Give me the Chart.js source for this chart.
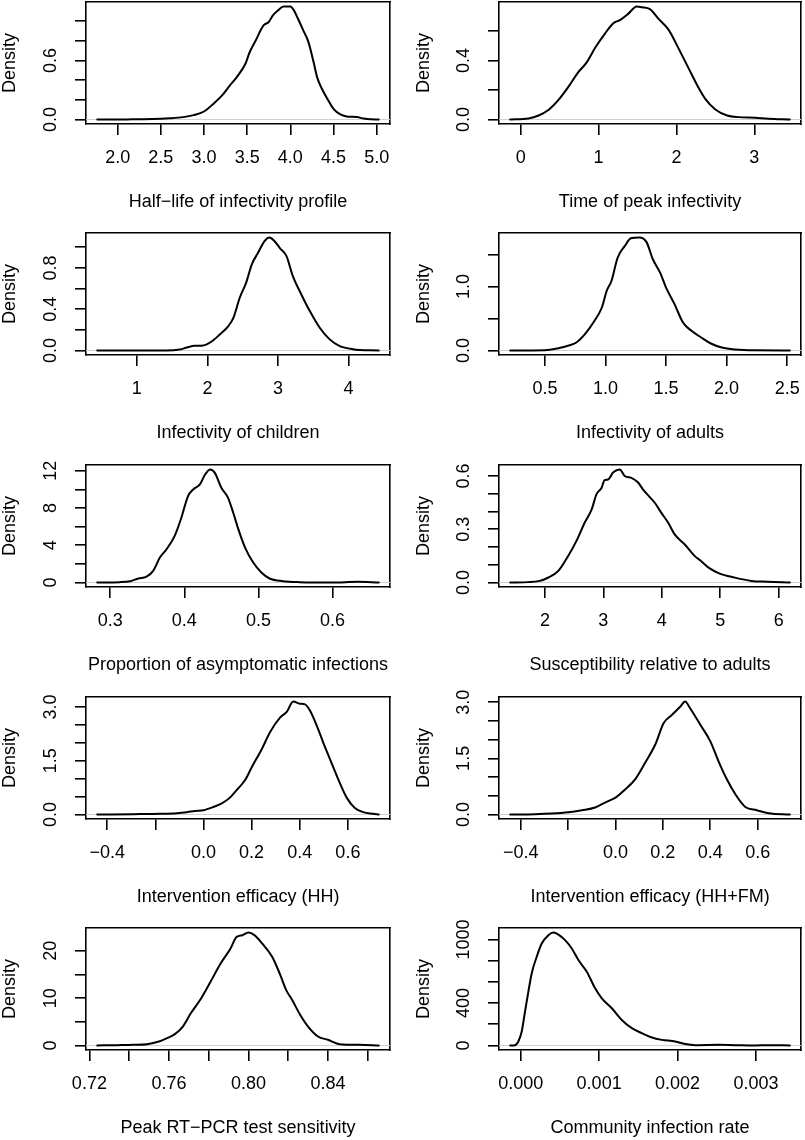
<!DOCTYPE html>
<html><head><meta charset="utf-8">
<script src="https://cdn.jsdelivr.net/npm/chart.js@4.4.1/dist/chart.umd.min.js"></script>
<style>
html,body{margin:0;padding:0;background:#fff;}
#wrap{position:relative;width:805px;height:1140px;overflow:hidden;background:#fff;}
#wrap canvas{position:absolute;}
</style></head><body><div id="wrap"></div>
<script>
// ---------- data ----------
const halfLifeX = [1.764, 2.10, 2.40, 2.60, 2.76, 2.88, 3.00, 3.11, 3.21, 3.30, 3.38, 3.48, 3.53, 3.59, 3.69, 3.75, 3.80, 3.86, 3.92, 4.00, 4.04, 4.09, 4.15, 4.21, 4.27, 4.31, 4.36, 4.44, 4.50, 4.58, 4.65, 4.77, 4.85, 4.93, 5.024];
const halfLifeY = [0, 0.001, 0.004, 0.012, 0.024, 0.044, 0.081, 0.16, 0.244, 0.346, 0.43, 0.566, 0.685, 0.786, 0.955, 0.99, 1.06, 1.11, 1.147, 1.147, 1.11, 1.02, 0.905, 0.786, 0.58, 0.43, 0.322, 0.193, 0.108, 0.051, 0.031, 0.024, 0.01, 0.002, 0];
const halfLifeXTicks = [2.0, 2.5, 3.0, 3.5, 4.0, 4.5, 5.0];
const halfLifeXLabels = ['2.0', '2.5', '3.0', '3.5', '4.0', '4.5', '5.0'];
const halfLifeYTicks = [0, 0.2, 0.4, 0.6, 0.8, 1.0];
const halfLifeYLabels = ['0.0', '', '', '0.6', '', ''];

const peakTimeX = [-0.135, 0.10, 0.23, 0.36, 0.48, 0.61, 0.74, 0.85, 0.96, 1.08, 1.19, 1.28, 1.38, 1.49, 1.56, 1.66, 1.77, 1.90, 2.03, 2.16, 2.28, 2.37, 2.50, 2.65, 2.80, 3.01, 3.18, 3.456];
const peakTimeY = [0, 0.007, 0.027, 0.066, 0.129, 0.219, 0.321, 0.389, 0.49, 0.581, 0.653, 0.676, 0.716, 0.766, 0.761, 0.748, 0.682, 0.608, 0.479, 0.343, 0.219, 0.14, 0.068, 0.027, 0.016, 0.011, 0.005, 0];
const peakTimeXTicks = [0, 1, 2, 3];
const peakTimeXLabels = ['0', '1', '2', '3'];
const peakTimeYTicks = [0, 0.2, 0.4, 0.6];
const peakTimeYLabels = ['0.0', '', '0.4', ''];

const infChildX = [0.439, 1.42, 1.61, 1.71, 1.82, 1.94, 2.06, 2.18, 2.30, 2.37, 2.46, 2.55, 2.63, 2.72, 2.81, 2.88, 2.95, 3.03, 3.12, 3.21, 3.33, 3.45, 3.59, 3.73, 3.87, 4.06, 4.429];
const infChildY = [0, 0, 0.01, 0.029, 0.045, 0.048, 0.087, 0.158, 0.239, 0.319, 0.513, 0.658, 0.835, 0.948, 1.06, 1.094, 1.06, 0.99, 0.916, 0.723, 0.545, 0.384, 0.223, 0.11, 0.045, 0.013, 0];
const infChildXTicks = [1, 2, 3, 4];
const infChildXLabels = ['1', '2', '3', '4'];
const infChildYTicks = [0, 0.2, 0.4, 0.6, 0.8, 1.0];
const infChildYLabels = ['0.0', '', '0.4', '', '0.8', ''];

const infAdultX = [0.213, 0.50, 0.61, 0.69, 0.76, 0.83, 0.90, 0.97, 1.01, 1.05, 1.10, 1.16, 1.21, 1.28, 1.34, 1.39, 1.45, 1.50, 1.57, 1.64, 1.71, 1.79, 1.87, 1.96, 2.07, 2.23, 2.522];
const infAdultY = [0, 0.005, 0.036, 0.073, 0.125, 0.255, 0.4375, 0.672, 0.932, 1.09, 1.45, 1.635, 1.755, 1.766, 1.69, 1.43, 1.22, 0.984, 0.724, 0.4375, 0.307, 0.203, 0.109, 0.047, 0.016, 0.002, 0];
const infAdultXTicks = [0.5, 1.0, 1.5, 2.0, 2.5];
const infAdultXLabels = ['0.5', '1.0', '1.5', '2.0', '2.5'];
const infAdultYTicks = [0, 0.5, 1.0, 1.5];
const infAdultYLabels = ['0.0', '', '1.0', ''];

const propAsymX = [0.2825, 0.313, 0.327, 0.338, 0.349, 0.358, 0.367, 0.376, 0.387, 0.396, 0.405, 0.412, 0.421, 0.428, 0.435, 0.441, 0.450, 0.459, 0.466, 0.473, 0.482, 0.493, 0.504, 0.515, 0.533, 0.556, 0.60, 0.634, 0.6624];
const propAsymY = [0, 0.036, 0.14, 0.43, 0.64, 1.25, 2.68, 3.57, 5.0, 6.96, 9.29, 10.0, 10.54, 11.6, 12.14, 11.8, 10.18, 9.1, 7.5, 5.71, 3.75, 2.14, 1.07, 0.43, 0.14, 0.036, 0.0, 0.07, 0];
const propAsymXTicks = [0.3, 0.4, 0.5, 0.6];
const propAsymXLabels = ['0.3', '0.4', '0.5', '0.6'];
const propAsymYTicks = [0, 2, 4, 6, 8, 10, 12];
const propAsymYLabels = ['0', '', '4', '', '8', '', '12'];

const suscX = [1.406, 1.72, 1.91, 2.06, 2.23, 2.40, 2.54, 2.68, 2.80, 2.88, 2.97, 3.02, 3.08, 3.17, 3.28, 3.37, 3.48, 3.59, 3.68, 3.79, 3.88, 3.99, 4.11, 4.22, 4.39, 4.56, 4.67, 4.82, 4.99, 5.24, 5.53, 5.81, 6.19];
const suscY = [0, 0.002, 0.009, 0.028, 0.065, 0.15, 0.234, 0.336, 0.411, 0.495, 0.533, 0.576, 0.58, 0.62, 0.636, 0.598, 0.589, 0.564, 0.523, 0.482, 0.449, 0.393, 0.336, 0.271, 0.215, 0.15, 0.121, 0.079, 0.05, 0.028, 0.009, 0.004, 0];
const suscXTicks = [2, 3, 4, 5, 6];
const suscXLabels = ['2', '3', '4', '5', '6'];
const suscYTicks = [0, 0.1, 0.2, 0.3, 0.4, 0.5, 0.6];
const suscYLabels = ['0.0', '', '', '0.3', '', '', '0.6'];

const effHHX = [-0.4412, -0.29, -0.18, -0.11, -0.069, -0.035, 0.0, 0.041, 0.076, 0.11, 0.138, 0.173, 0.20, 0.242, 0.277, 0.318, 0.346, 0.373, 0.40, 0.422, 0.443, 0.471, 0.498, 0.526, 0.56, 0.595, 0.629, 0.664, 0.705, 0.7282];
const effHHY = [0, 0.009, 0.019, 0.037, 0.065, 0.10, 0.12, 0.21, 0.31, 0.47, 0.68, 0.96, 1.31, 1.82, 2.30, 2.70, 2.86, 3.15, 3.09, 3.07, 2.89, 2.47, 2.0, 1.54, 0.98, 0.47, 0.18, 0.065, 0.02, 0];
const effHHXTicks = [-0.4, -0.2, 0.0, 0.2, 0.4, 0.6];
const effHHXLabels = ['\u22120.4', '', '0.0', '0.2', '0.4', '0.6'];
const effHHYTicks = [0, 0.5, 1.0, 1.5, 2.0, 2.5, 3.0];
const effHHYLabels = ['0.0', '', '', '1.5', '', '', '3.0'];

const effFMX = [-0.4443, -0.34, -0.269, -0.199, -0.142, -0.086, -0.044, 0.0, 0.041, 0.083, 0.125, 0.168, 0.203, 0.238, 0.273, 0.294, 0.315, 0.358, 0.40, 0.435, 0.47, 0.506, 0.548, 0.597, 0.646, 0.7358];
const effFMY = [0, 0.009, 0.027, 0.062, 0.115, 0.186, 0.319, 0.45, 0.67, 0.94, 1.38, 1.87, 2.44, 2.66, 2.88, 3.02, 2.84, 2.40, 1.96, 1.42, 0.94, 0.54, 0.20, 0.115, 0.035, 0];
const effFMXTicks = [-0.4, -0.2, 0.0, 0.2, 0.4, 0.6];
const effFMXLabels = ['\u22120.4', '', '0.0', '0.2', '0.4', '0.6'];
const effFMYTicks = [0, 0.5, 1.0, 1.5, 2.0, 2.5, 3.0];
const effFMYLabels = ['0.0', '', '', '1.5', '', '', '3.0'];

const sensX = [0.72396, 0.734, 0.742, 0.749, 0.755, 0.759, 0.763, 0.767, 0.771, 0.776, 0.781, 0.786, 0.791, 0.794, 0.797, 0.800, 0.803, 0.807, 0.812, 0.816, 0.819, 0.822, 0.826, 0.830, 0.835, 0.840, 0.846, 0.856, 0.86554];
const sensY = [0, 0.07, 0.14, 0.28, 0.84, 1.54, 2.39, 4.0, 6.8, 9.8, 13.5, 17.3, 20.5, 22.9, 23.3, 23.86, 23.3, 21.5, 18.7, 14.9, 11.7, 9.6, 6.5, 4.0, 1.9, 1.2, 0.28, 0.14, 0];
const sensXTicks = [0.72, 0.74, 0.76, 0.78, 0.80, 0.82, 0.84, 0.86];
const sensXLabels = ['0.72', '', '0.76', '', '0.80', '', '0.84', ''];
const sensYTicks = [0, 5, 10, 15, 20];
const sensYLabels = ['0', '', '10', '', '20'];

const commX = [-0.000134, -0.000072, -0.000030, 0.000013, 0.000055, 0.000098, 0.000140, 0.000204, 0.000268, 0.000353, 0.000417, 0.000481, 0.000566, 0.000651, 0.000736, 0.000843, 0.000949, 0.001034, 0.001162, 0.001289, 0.001417, 0.001545, 0.001672, 0.001800, 0.001970, 0.002098, 0.002226, 0.002523, 0.002736, 0.002991, 0.003160, 0.003431];
const commY = [0, 3, 38, 132, 320, 508, 680, 837, 962, 1041, 1066, 1047, 994, 915, 806, 696, 539, 445, 351, 241, 163, 116, 75, 53, 38, 13, 3, 6, 3, 0, 3, 0];
const commXTicks = [0, 0.001, 0.002, 0.003];
const commXLabels = ['0.000', '0.001', '0.002', '0.003'];
const commYTicks = [0, 200, 400, 600, 800, 1000];
const commYLabels = ['0', '', '400', '', '', '1000'];

const titles = ['Half\u2212life of infectivity profile', 'Time of peak infectivity', 'Infectivity of children', 'Infectivity of adults', 'Proportion of asymptomatic infections', 'Susceptibility relative to adults', 'Intervention efficacy (HH)', 'Intervention efficacy (HH+FM)', 'Peak RT\u2212PCR test sensitivity', 'Community infection rate'];
const yTitle = 'Density';

// ---------- panel table built from the arrays ----------
const panels = [
  [halfLifeX, halfLifeY, halfLifeXTicks, halfLifeXLabels, halfLifeYTicks, halfLifeYLabels],
  [peakTimeX, peakTimeY, peakTimeXTicks, peakTimeXLabels, peakTimeYTicks, peakTimeYLabels],
  [infChildX, infChildY, infChildXTicks, infChildXLabels, infChildYTicks, infChildYLabels],
  [infAdultX, infAdultY, infAdultXTicks, infAdultXLabels, infAdultYTicks, infAdultYLabels],
  [propAsymX, propAsymY, propAsymXTicks, propAsymXLabels, propAsymYTicks, propAsymYLabels],
  [suscX, suscY, suscXTicks, suscXLabels, suscYTicks, suscYLabels],
  [effHHX, effHHY, effHHXTicks, effHHXLabels, effHHYTicks, effHHYLabels],
  [effFMX, effFMY, effFMXTicks, effFMXLabels, effFMYTicks, effFMYLabels],
  [sensX, sensY, sensXTicks, sensXLabels, sensYTicks, sensYLabels],
  [commX, commY, commXTicks, commXLabels, commYTicks, commYLabels]
].map((a, i) => ({x: a[0], y: a[1], xt: a[2], xl: a[3], yt: a[4], yl: a[5], title: titles[i]}));

// ---------- layout & style ----------
const FONT = "'Liberation Sans', Arial, Helvetica, sans-serif";
const FS = 18;
Chart.defaults.font.family = FONT;
Chart.defaults.font.size = FS;
Chart.defaults.color = '#000';

const colLeft = [0, 402], colWidth = [402, 403], axisW = [86, 97], padRight = [12, 4], yTitlePad = [0, 12];
const BOX_TOP_PAD = 14, BOX_H = 122, XAXIS_H = 90, TICK = 11, LW = 1.6;
const CANVAS_H = BOX_TOP_PAD + BOX_H + XAXIS_H;
const rowTop = [-12, 219, 451, 683, 914];

const wrap = document.getElementById('wrap');
const mctx = document.createElement('canvas').getContext('2d');
mctx.font = FS + 'px ' + FONT;

panels.forEach((p, i) => {
  const col = i % 2, row = Math.floor(i / 2);
  const cv = document.createElement('canvas');
  cv.width = colWidth[col]; cv.height = CANVAS_H;
  cv.style.left = colLeft[col] + 'px'; cv.style.top = rowTop[row] + 'px';
  cv.style.width = colWidth[col] + 'px'; cv.style.height = CANVAS_H + 'px';
  wrap.appendChild(cv);

  const n = p.x.length;
  const xr = p.x[n - 1] - p.x[0];
  const xmin = p.x[0] - 0.04 * xr, xmax = p.x[n - 1] + 0.04 * xr;
  const yTop = Math.max(...p.y), yBot = Math.min(...p.y), yr = yTop - yBot;
  const ymin = yBot - 0.04 * yr, ymax = yTop + 0.04 * yr;
  const widest = Math.max(...p.yl.map(s => mctx.measureText(s).width));

  const border = {display: true, color: '#000', width: LW};
  new Chart(cv, {
    type: 'line',
    data: {datasets: [
      {data: p.x.map((v, k) => ({x: v, y: p.y[k]})), xAxisID: 'x', yAxisID: 'y',
       borderColor: '#000', borderWidth: 2, pointRadius: 0, fill: false,
       cubicInterpolationMode: 'monotone', borderJoinStyle: 'round', borderCapStyle: 'round', order: 0},
      {data: [{x: xmin, y: 0}, {x: xmax, y: 0}], xAxisID: 'x', yAxisID: 'y',
       borderColor: '#d0d0d0', borderWidth: 1, pointRadius: 0, fill: false, order: 1}
    ]},
    options: {
      responsive: false, animation: false, devicePixelRatio: 1,
      layout: {padding: {left: 0, right: padRight[col], top: BOX_TOP_PAD, bottom: 0}},
      plugins: {legend: {display: false}, tooltip: {enabled: false}},
      events: [],
      scales: {
        x: {type: 'linear', position: 'bottom', min: xmin, max: xmax, bounds: 'data',
          afterBuildTicks: s => { s.ticks = p.xt.map(v => ({value: v})); },
          afterFit: s => { s.height = XAXIS_H; s.paddingLeft = 0; s.paddingRight = 0; },
          ticks: {autoSkip: false, minRotation: 0, maxRotation: 0, padding: 12.2,
            font: {size: FS, lineHeight: 1.2}, color: '#000',
            callback: (v, idx) => p.xl[idx]},
          grid: {display: true, drawOnChartArea: false, drawTicks: true, tickLength: TICK, color: '#000', lineWidth: LW},
          border: border,
          title: {display: true, text: p.title, color: '#000', font: {size: FS, lineHeight: 1.1}, padding: {top: 0, bottom: 2}}
        },
        y: {type: 'linear', position: 'left', min: ymin, max: ymax, bounds: 'data',
          afterBuildTicks: s => { s.ticks = p.yt.map(v => ({value: v})); },
          afterFit: s => { s.width = axisW[col]; s.paddingTop = 0; s.paddingBottom = 0; },
          ticks: {autoSkip: false, minRotation: 90, maxRotation: 90, crossAlign: 'center',
            padding: 24 - widest / 2, font: {size: FS, lineHeight: 1.2}, color: '#000',
            callback: (v, idx) => p.yl[idx]},
          grid: {display: true, drawOnChartArea: false, drawTicks: true, tickLength: TICK, color: '#000', lineWidth: LW},
          border: border,
          title: {display: true, text: yTitle, color: '#000', font: {size: FS, lineHeight: 1.1}, padding: {top: yTitlePad[col], bottom: 0}}
        },
        x2: {type: 'linear', position: 'top', min: 0, max: 1,
          ticks: {display: false}, grid: {display: false, drawTicks: false}, border: border,
          afterFit: s => { s.height = 0; s.paddingLeft = 0; s.paddingRight = 0; }},
        y2: {type: 'linear', position: 'right', min: 0, max: 1,
          ticks: {display: false}, grid: {display: false, drawTicks: false}, border: border,
          afterFit: s => { s.width = 0; s.paddingTop = 0; s.paddingBottom = 0; }}
      }
    }
  });
});
</script>
</body></html>
